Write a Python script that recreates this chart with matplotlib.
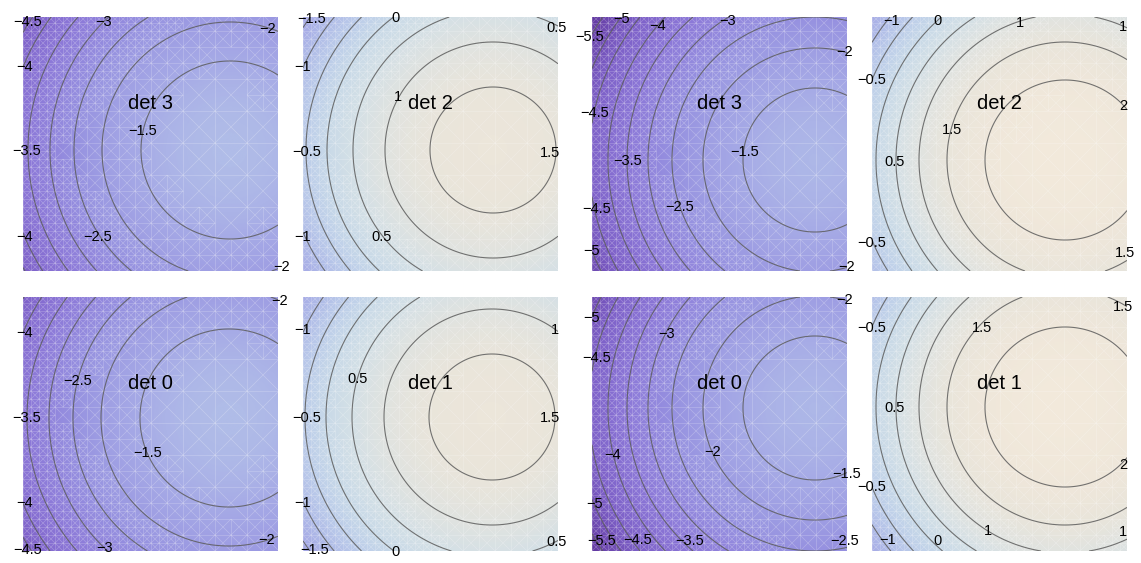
import numpy as np
import matplotlib
matplotlib.use("Agg")
import matplotlib.pyplot as plt
from matplotlib.colors import LinearSegmentedColormap, Normalize
from matplotlib.collections import LineCollection

plt.rcParams['font.family'] = ['Liberation Sans', 'DejaVu Sans']

# panel order: top row left->right, then bottom row
titles = ["det 3", "det 2", "det 3", "det 2", "det 0", "det 1", "det 0", "det 1"]

# centre of the rings in each panel (panel pixels, from lower left)
center_x = [207, 190, 223, 193, 206, 189, 223, 193]
center_y = [121, 121, 111, 111, 133, 134, 143, 144]

# radial profiles: ring radius (px) -> value
prof_a_r = [0, 89, 128, 156, 180, 202, 223, 238, 262]
prof_a_v = [-1.0, -1.5, -2.0, -2.5, -3.0, -3.5, -4.0, -4.5, -5.2]
prof_b_r = [0, 63, 108, 140, 166, 187, 207, 226, 250]
prof_b_v = [1.75, 1.5, 1.0, 0.5, 0.0, -0.5, -1.0, -1.5, -2.2]
prof_c_r = [0, 72, 112, 143, 167, 188, 207, 226, 241, 256, 275]
prof_c_v = [-1.15, -1.5, -2.0, -2.5, -3.0, -3.5, -4.0, -4.5, -5.0, -5.5, -6.1]
prof_d_r = [0, 80, 118, 146, 169, 189, 209, 226, 250]
prof_d_v = [2.43, 2.0, 1.5, 1.0, 0.5, 0.0, -0.5, -1.0, -1.75]
profiles = [(prof_a_r, prof_a_v), (prof_b_r, prof_b_v), (prof_c_r, prof_c_v), (prof_d_r, prof_d_v),
            (prof_a_r, prof_a_v), (prof_b_r, prof_b_v), (prof_c_r, prof_c_v), (prof_d_r, prof_d_v)]

# contour labels: (level, x, y) in panel pixels
labels = [
    [(-4.5, 5, 249), (-3, 81, 249), (-2, 245, 242), (-4, 2, 204), (-1.5, 120, 140),
     (-3.5, 4, 120), (-4, 2, 34), (-2.5, 75, 34), (-2, 259, 4)],
    [(-1.5, 9, 252), (0, 92, 253), (0.5, 254, 243), (-1, 0, 204), (1, 95, 174),
     (-0.5, 4, 119), (1.5, 247, 118), (-1, 0, 34), (0.5, 79, 34)],
    [(-5, 30, 252), (-4, 66, 245), (-3, 136, 250), (-5.5, -2, 234), (-2, 253, 219),
     (-4.5, 3, 158), (-1.5, 153, 119), (-3.5, 36, 110), (-2.5, 88, 64), (-4.5, 5, 62),
     (-5, 0, 20), (-2, 255, 4)],
    [(-1, 20, 250), (0, 65, 250), (1, 148, 248), (1, 251, 244), (-0.5, 0, 191),
     (2, 251, 165), (1.5, 80, 141), (0.5, 23, 109), (-0.5, 0, 28), (1.5, 253, 18)],
    [(-2, 257, 250), (-4, 2, 218), (-2.5, 55, 170), (-3.5, 4, 133), (-1.5, 125, 98),
     (-4, 2, 48), (-2, 244, 11), (-4.5, 5, 1), (-3, 82, 3)],
    [(1, 252, 221), (-1, 0, 221), (0.5, 55, 172), (-0.5, 4, 133), (1.5, 247, 133),
     (-1, 0, 48), (0.5, 254, 9), (-1.5, 12, 1), (0, 92, -1)],
    [(-2, 253, 251), (-5, 0, 233), (-3, 75, 217), (-4.5, 5, 193), (-2, 121, 99),
     (-4, 21, 96), (-1.5, 255, 77), (-5, 3, 47), (-5.5, 10, 10), (-4.5, 46, 11),
     (-3.5, 98, 10), (-2.5, 253, 10)],
    [(1.5, 251, 244), (-0.5, 0, 223), (1.5, 110, 223), (0.5, 23, 143), (2, 251, 86),
     (-0.5, 0, 64), (1, 116, 20), (1, 251, 19), (-1, 16, 11), (0, 65, 10)],
]

# colour map anchored on data values
cmap_vals = [-6.0, -5.5, -4.5, -3.5, -2.5, -1.5, -1.0, -0.5, 0.0, 0.5, 1.0, 1.5, 2.0, 2.5]
cmap_cols = ["#5a2f9a", "#6942aa", "#7d60c8", "#8c78d8", "#9691e0", "#a6aae6", "#b0bce8",
             "#bccdea", "#c8d9e8", "#d4e0e6", "#e0e3e0", "#e9e5db", "#efe7da", "#f3eadc"]
vmin, vmax = cmap_vals[0], cmap_vals[-1]
cmap = LinearSegmentedColormap.from_list(
    "det", [((v - vmin) / (vmax - vmin), c) for v, c in zip(cmap_vals, cmap_cols)])
norm = Normalize(vmin, vmax)

W, H = 255, 254
col_x = [23, 303, 592, 872]
row_top = [17, 297]
fig_w, fig_h = 1141, 563


def field(x, y, cx, cy, pr, pv):
    r2 = (x - cx) ** 2 + (y - cy) ** 2
    return np.interp(r2, np.asarray(pr, float) ** 2, pv)


def mesh_cells(f, x, y, s, depth, out, thr=0.35, max_depth=2):
    pts = [(x, y), (x + s, y), (x, y + s), (x + s, y + s), (x + s / 2, y + s / 2)]
    vals = [f(px, py) for px, py in pts]
    if depth < max_depth and max(vals) - min(vals) > thr:
        h = s / 2
        for dx in (0, h):
            for dy in (0, h):
                mesh_cells(f, x + dx, y + dy, h, depth + 1, out, thr, max_depth)
    else:
        out.append((x, y, s))


fig = plt.figure(figsize=(fig_w / 100, fig_h / 100), dpi=100)

xs = np.linspace(0, W, 256)
ys = np.linspace(0, H, 256)
X, Y = np.meshgrid(xs, ys)

for i in range(8):
    row, col = divmod(i, 4)
    left = col_x[col] / fig_w
    bottom = 1 - (row_top[row] + H) / fig_h
    ax = fig.add_axes([left, bottom, W / fig_w, H / fig_h])
    cx, cy = center_x[i], center_y[i]
    pr, pv = profiles[i]
    Z = field(X, Y, cx, cy, pr, pv)

    ax.imshow(Z, extent=(0, W, 0, H), origin="lower", cmap=cmap, norm=norm,
              interpolation="bilinear", aspect="auto")

    # faint white seams of the adaptive triangle mesh
    cells = []
    f = lambda px, py: float(field(px, py, cx, cy, pr, pv))
    for bx in range(0, 256, 32):
        for by in range(0, 256, 32):
            mesh_cells(f, bx, by, 32, 0, cells)
    segs = []
    for x, y, s in cells:
        segs += [[(x, y), (x + s, y)], [(x, y), (x, y + s)],
                 [(x, y), (x + s, y + s)], [(x + s, y), (x, y + s)]]
    ax.add_collection(LineCollection(segs, colors="white", linewidths=0.5, alpha=0.25))

    levels = np.arange(np.ceil(Z.min() * 2) / 2, Z.max(), 0.5)
    ax.contour(X, Y, Z, levels=levels, colors="#5c5c5c", linewidths=0.8, alpha=0.85,
               linestyles="solid", negative_linestyles="solid")

    for v, lx, ly in labels[i]:
        ax.text(lx, ly, f"{v:g}".replace("-", "\u2212"), ha="center", va="center",
                fontsize=10.5, color="black", clip_on=False, zorder=5)
    ax.text(0.5, 0.66, titles[i], transform=ax.transAxes, ha="center", va="center",
            fontsize=14.5, color="black", zorder=6)

    ax.set_xlim(0, W)
    ax.set_ylim(0, H)
    ax.axis("off")

fig.savefig("out.png", dpi=100, facecolor="white")
